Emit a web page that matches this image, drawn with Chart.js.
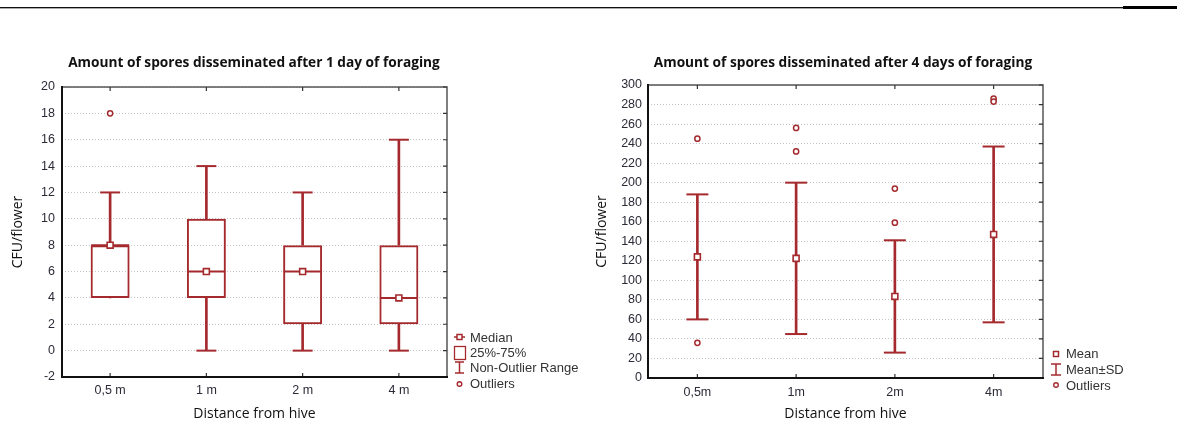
<!DOCTYPE html>
<html><head><meta charset="utf-8">
<script src="https://cdn.jsdelivr.net/npm/chart.js@4"></script>
<style>
body{margin:0;background:#fff;width:1177px;height:422px;overflow:hidden;position:relative;font-family:"Liberation Sans",Arial,sans-serif}
.cw{position:absolute;top:0;height:422px}
#topline{position:absolute;left:0;top:7px;width:1124px;height:1px;background:#111}
#topgray{position:absolute;left:0;top:8px;width:1124px;height:1px;background:#aaa}
#topthick{position:absolute;left:1123px;top:6px;width:54px;height:3px;background:#000}
.title{position:absolute;top:52px;font-family:"Open Sans",sans-serif;font-weight:700;font-size:13.7px;color:#111;white-space:nowrap;transform:translateX(-50%)}
.leg{position:absolute;font-size:13px;color:#333;white-space:nowrap;line-height:15px}
</style></head>
<body>
<div id="topline"></div><div id="topgray"></div><div id="topthick"></div>
<div class="cw" style="left:0;width:590px"><canvas id="cL" width="590" height="422"></canvas></div>
<div class="cw" style="left:590px;width:587px"><canvas id="cR" width="587" height="422"></canvas></div>
<div class="title" style="left:254px">Amount of spores disseminated after 1 day of foraging</div>
<div class="title" style="left:843px">Amount of spores disseminated after 4 days of foraging</div>

<!-- left legend -->
<svg width="20" height="60" style="position:absolute;left:450px;top:330px" viewBox="0 0 20 60">
  <line x1="4" y1="7" x2="15" y2="7" stroke="#a52a2e" stroke-width="1.5"/>
  <rect x="7" y="4.5" width="5" height="5" fill="#fff" stroke="#a52a2e" stroke-width="1.5"/>
  <rect x="4.5" y="16.5" width="11" height="13" fill="none" stroke="#a52a2e" stroke-width="1.3"/>
  <line x1="5" y1="32" x2="14" y2="32" stroke="#a52a2e" stroke-width="1.5"/>
  <line x1="9.5" y1="32" x2="9.5" y2="43" stroke="#a52a2e" stroke-width="1.5"/>
  <line x1="5" y1="43" x2="14" y2="43" stroke="#a52a2e" stroke-width="1.5"/>
  <circle cx="9.5" cy="54" r="2.3" fill="#fff" stroke="#a52a2e" stroke-width="1.4"/>
</svg>
<div class="leg" style="left:470px;top:330px">Median</div>
<div class="leg" style="left:470px;top:345px">25%-75%</div>
<div class="leg" style="left:470px;top:360px">Non-Outlier Range</div>
<div class="leg" style="left:470px;top:376px">Outliers</div>

<!-- right legend -->
<svg width="20" height="50" style="position:absolute;left:1046px;top:345px" viewBox="0 0 20 50">
  <rect x="7.5" y="6.5" width="5" height="5" fill="#fff" stroke="#a52a2e" stroke-width="1.5"/>
  <line x1="5" y1="19" x2="15" y2="19" stroke="#a52a2e" stroke-width="1.5"/>
  <line x1="10" y1="19" x2="10" y2="30" stroke="#a52a2e" stroke-width="1.5"/>
  <line x1="5" y1="30" x2="15" y2="30" stroke="#a52a2e" stroke-width="1.5"/>
  <circle cx="10" cy="40" r="2.3" fill="#fff" stroke="#a52a2e" stroke-width="1.4"/>
</svg>
<div class="leg" style="left:1066px;top:346px">Mean</div>
<div class="leg" style="left:1066px;top:362px">Mean±SD</div>
<div class="leg" style="left:1066px;top:378px">Outliers</div>

<script>
// ---- Left chart data (box plot, 1 day) ----
const catsL = ['0,5 m', '1 m', '2 m', '4 m'];
const minL  = [4, 0, 0, 0];
const q1L   = [4, 4, 2, 2];
const medL  = [8, 6, 6, 4];
const q3L   = [8, 10, 8, 8];
const maxL  = [12, 14, 12, 16];
const outCatL = ['0,5 m'];
const outValL = [18];
const yTicksL = {min: -2, max: 20, step: 2};

// ---- Right chart data (mean ± SD, 4 days) ----
const catsR = ['0,5m', '1m', '2m', '4m'];
const meanR = [124, 122.5, 83.5, 147];
const sdR   = [64, 77.5, 57.5, 90];
const outCatR = ['0,5m', '0,5m', '1m', '1m', '2m', '2m', '4m', '4m'];
const outValR = [245, 36, 256, 232, 194, 159, 286, 283];
const yTicksR = {min: 0, max: 300, step: 20};

const RED = '#a52a2e';
const TICKFONT = {family: 'Liberation Sans', size: 12.5};
const TITLEFONT = {family: 'Open Sans', size: 14};

const framePlugin = {
  id: 'frame',
  afterDatasetsDraw(chart) {
    const {ctx, chartArea: a, scales} = chart;
    ctx.save();
    ctx.strokeStyle = '#555';
    ctx.lineWidth = 1.5;
    ctx.beginPath();
    ctx.moveTo(a.left, a.top); ctx.lineTo(a.right, a.top); ctx.lineTo(a.right, a.bottom);
    ctx.stroke();
    ctx.lineWidth = 1.2;
    ctx.strokeStyle = '#333';
    ctx.beginPath();
    scales.x.ticks.forEach((t, i) => {
      const x = scales.x.getPixelForTick(i);
      ctx.moveTo(x, a.top); ctx.lineTo(x, a.top + 4);
      ctx.moveTo(x, a.bottom); ctx.lineTo(x, a.bottom - 4);
    });
    scales.y.ticks.forEach((t, i) => {
      const y = scales.y.getPixelForTick(i);
      ctx.moveTo(a.right, y); ctx.lineTo(a.right - 4, y);
    });
    ctx.stroke();
    ctx.strokeStyle = '#111';
    ctx.lineWidth = 2;
    ctx.beginPath();
    ctx.moveTo(a.left, a.top - 1); ctx.lineTo(a.left, a.bottom); ctx.lineTo(a.right + 1, a.bottom);
    ctx.stroke();
    ctx.restore();
  }
};

function pointSet(data, style, radius, order, extra) {
  return Object.assign({
    type: 'line', data, showLine: false, pointStyle: style, pointRadius: radius,
    pointHoverRadius: radius, borderColor: RED, pointBorderColor: RED,
    backgroundColor: '#fff', pointBackgroundColor: '#fff', pointBorderWidth: 2, order, clip: false
  }, extra || {});
}
function stemSet(data, order) {
  return {type: 'bar', data, grouped: false, barThickness: 2, backgroundColor: RED, borderWidth: 0, order};
}

function scalesFor(yt, yWidth, xHeight, yPad, xPad, yTitlePad) {
  return {
    x: {
      type: 'category', offset: true,
      grid: {display: false, drawTicks: false}, border: {display: false},
      ticks: {color: '#2b2b38', font: TICKFONT, padding: xPad},
      title: {display: true, text: 'Distance from hive', font: TITLEFONT, color: '#111', padding: {top: 0, bottom: 0}},
      afterFit(s) { s.height = xHeight; }
    },
    y: {
      min: yt.min, max: yt.max,
      ticks: {stepSize: yt.step, color: '#2b2b38', font: TICKFONT, padding: yPad},
      grid: {color: '#c4c4c4', lineWidth: 1, drawTicks: false},
      border: {display: false, dash: [1, 2]},
      title: {display: true, text: 'CFU/flower', font: TITLEFONT, color: '#111', padding: {top: yTitlePad, bottom: 0}},
      afterFit(s) { s.width = yWidth; }
    }
  };
}

const common = {
  responsive: false, animation: false, events: [],
  plugins: {legend: {display: false}, tooltip: {enabled: false}, title: {display: false}}
};

// Left chart
new Chart(document.getElementById('cL'), {
  type: 'bar',
  data: {
    labels: catsL,
    datasets: [
      stemSet(catsL.map((c, i) => [q3L[i], maxL[i]]), 9),
      stemSet(catsL.map((c, i) => [minL[i], q1L[i]]), 8),
      pointSet(maxL, 'line', 10, 7),
      pointSet(minL.map((v, i) => v < q1L[i] ? v : null), 'line', 10, 6),
      {type: 'bar', data: catsL.map((c, i) => [q1L[i], q3L[i]]), grouped: false,
       barPercentage: 0.405, categoryPercentage: 1, backgroundColor: 'rgba(0,0,0,0)',
       borderColor: RED, borderWidth: 2, borderSkipped: false, order: 5},
      pointSet(medL, 'line', 19, 4),
      pointSet(medL, 'rect', 4.2, 3, {pointBorderWidth: 1.6}),
      pointSet(outCatL.map((c, i) => ({x: c, y: outValL[i]})), 'circle', 2.6, 2, {pointBorderWidth: 1.5})
    ]
  },
  options: Object.assign({}, common, {
    layout: {padding: {left: 0, top: 87, right: 143, bottom: 0}},
    scales: scalesFor(yTicksL, 62, 45, 7, 6, 9.5)
  }),
  plugins: [framePlugin]
});

// Right chart
new Chart(document.getElementById('cR'), {
  type: 'bar',
  data: {
    labels: catsR,
    datasets: [
      stemSet(catsR.map((c, i) => [meanR[i] - sdR[i], meanR[i] + sdR[i]]), 9),
      pointSet(meanR.map((m, i) => m + sdR[i]), 'line', 11, 7),
      pointSet(meanR.map((m, i) => m - sdR[i]), 'line', 11, 6),
      pointSet(meanR, 'rect', 4.2, 3, {pointBorderWidth: 1.6}),
      pointSet(outCatR.map((c, i) => ({x: c, y: outValR[i]})), 'circle', 2.6, 2, {pointBorderWidth: 1.5})
    ]
  },
  options: Object.assign({}, common, {
    layout: {padding: {left: 0, top: 85, right: 134, bottom: 0}},
    scales: scalesFor(yTicksR, 58, 44, 6, 7.5, 3.6)
  }),
  plugins: [framePlugin]
});
</script>
</body></html>
